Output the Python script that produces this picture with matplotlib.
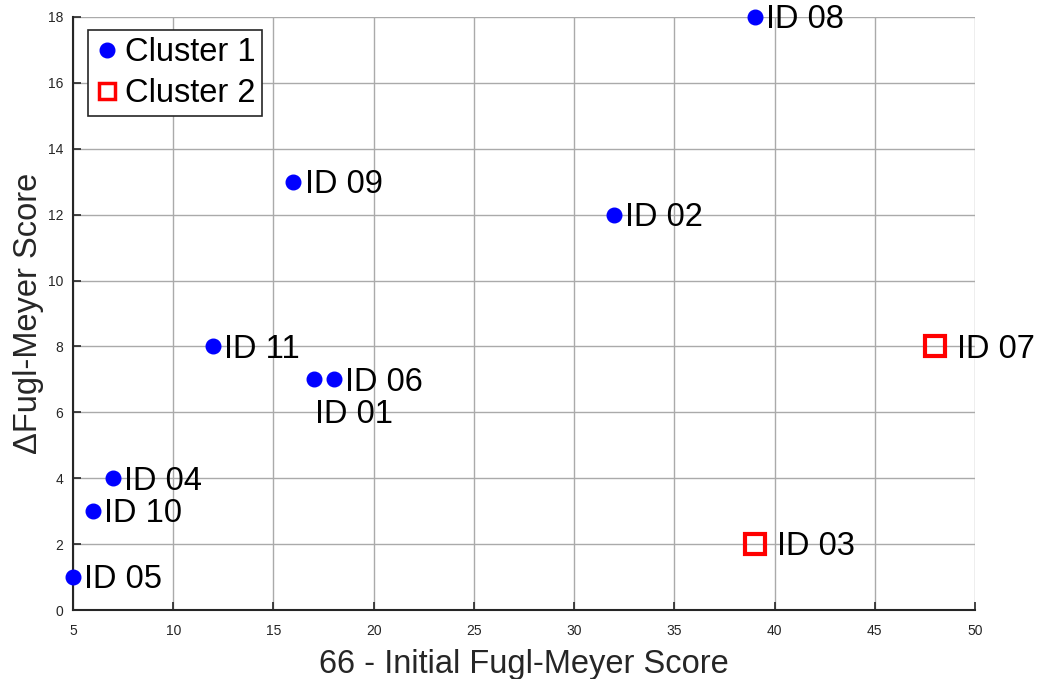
import numpy as np
from matplotlib import pyplot as plt

plt.rcParams['font.family'] = ['Liberation Sans', 'DejaVu Sans']

# cluster 1 points
c1_x = [5, 6, 7, 12, 16, 17, 18, 32, 39]
c1_y = [1, 3, 4, 8, 13, 7, 7, 12, 18]
c1_ids = ['ID 05', 'ID 10', 'ID 04', 'ID 11', 'ID 09', 'ID 01', 'ID 06', 'ID 02', 'ID 08']

# cluster 2 points
c2_x = [39, 48]
c2_y = [2, 8]
c2_ids = ['ID 03', 'ID 07']

xticks = np.arange(5, 51, 5)
yticks = np.arange(0, 19, 2)

fig = plt.figure(figsize=(10.37, 6.79), dpi=100)
ax = fig.add_axes([0.0704, 0.1016, 0.8698, 0.8734])

ax.plot(c1_x, c1_y, 'o', color='blue', markersize=10.5, label='Cluster 1', zorder=3, clip_on=False)
ax.plot(c2_x, c2_y, 's', color='red', markerfacecolor='none', markersize=15,
        markeredgewidth=3, label='Cluster 2', zorder=3, clip_on=False)

fs = 23.5
for xx, yy, s in zip(c1_x, c1_y, c1_ids):
    if s == 'ID 01':
        ax.annotate(s, (xx, yy), xytext=(1, -25), textcoords='offset points',
                    ha='left', va='center', fontsize=fs)
    else:
        ax.annotate(s, (xx, yy), xytext=(8, -2), textcoords='offset points',
                    ha='left', va='center', fontsize=fs)
for xx, yy, s in zip(c2_x, c2_y, c2_ids):
    ax.annotate(s, (xx, yy), xytext=(16, -2), textcoords='offset points',
                ha='left', va='center', fontsize=fs)

ax.set_xlim(5, 50)
ax.set_ylim(0, 18)
ax.set_xticks(xticks)
ax.set_yticks(yticks)
ax.grid(True, color='#aaaaaa', linewidth=1)
ax.set_axisbelow(True)
ax.tick_params(direction='in', length=6, width=1.2, labelsize=10, colors='#262626')
ax.tick_params(axis='x', pad=10)
ax.tick_params(axis='y', pad=7)
for side in ['top', 'right']:
    ax.spines[side].set_visible(False)
for side in ['left', 'bottom']:
    ax.spines[side].set_color('#262626')
    ax.spines[side].set_linewidth(1.5)

ax.set_xlabel('66 - Initial Fugl-Meyer Score', fontsize=fs, color='#262626')
ax.set_ylabel('\u0394Fugl-Meyer Score', fontsize=fs, color='#262626')
ax.xaxis.set_label_coords(0.5, -0.066)
ax.yaxis.set_label_coords(-0.0325, 0.5)

leg = ax.legend(loc='upper left', bbox_to_anchor=(0.0166, 0.978), borderaxespad=0,
                fontsize=fs, fancybox=False, edgecolor='#262626', framealpha=1,
                handlelength=0.7, handletextpad=0.2, borderpad=0.22, labelspacing=0.3)
leg.get_frame().set_linewidth(1.2)
h1, h2 = leg.legend_handles
h1.set_markersize(10.5)
h2.set_markersize(12)
h2.set_markeredgewidth(2.5)

plt.savefig('out.png', dpi=100)
